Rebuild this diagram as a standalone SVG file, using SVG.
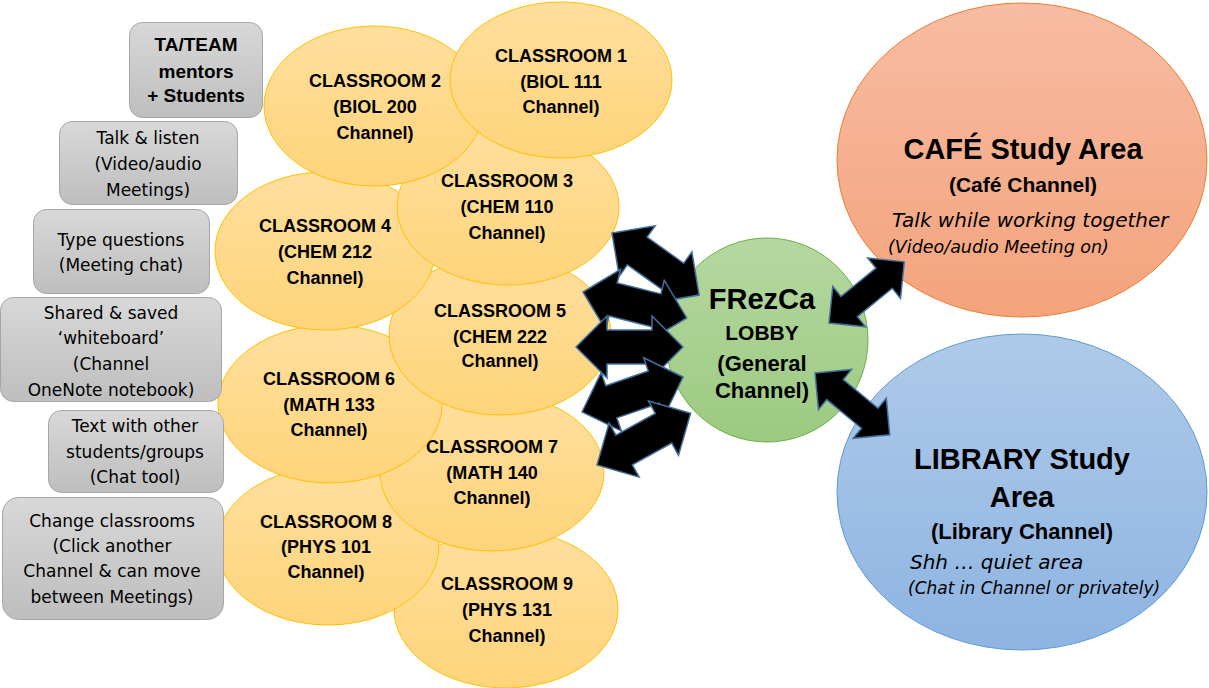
<svg xmlns="http://www.w3.org/2000/svg" xmlns:xlink="http://www.w3.org/1999/xlink" width="1209" height="688" viewBox="0 0 1209 688">
<defs>
<linearGradient id="gGold" x1="0" y1="0" x2="0" y2="1"><stop offset="0" stop-color="#FFDF9E"/><stop offset="1" stop-color="#FFD47A"/></linearGradient>
<linearGradient id="gGray" x1="0" y1="0" x2="0" y2="1"><stop offset="0" stop-color="#D8D8D8"/><stop offset="1" stop-color="#BEBEBE"/></linearGradient>
<linearGradient id="gGreen" x1="0" y1="0" x2="0" y2="1"><stop offset="0" stop-color="#B5D8A0"/><stop offset="1" stop-color="#9CCA80"/></linearGradient>
<linearGradient id="gOrange" x1="0" y1="0" x2="0" y2="1"><stop offset="0" stop-color="#F7BCA2"/><stop offset="1" stop-color="#F4A37C"/></linearGradient>
<linearGradient id="gBlue" x1="0" y1="0" x2="0" y2="1"><stop offset="0" stop-color="#AFCAE9"/><stop offset="1" stop-color="#8EB4E2"/></linearGradient>
<path id="arrL" d="M0,0 L31,-31 L31,-17 L76,-17 L76,-31 L107,0 L76,31 L76,17 L31,17 L31,31 Z"/>
<path id="arrR" d="M0,0 L26,-26 L26,-13 L71,-13 L71,-26 L97,0 L71,26 L71,13 L26,13 L26,26 Z"/>
</defs>
<style>
.cls{fill:url(#gGold);stroke:#FFC000;stroke-width:1}
.box{fill:url(#gGray);stroke:#A6A6A6;stroke-width:1}
.b{font-family:"Liberation Sans",Arial,sans-serif;font-weight:bold;fill:#000;text-anchor:middle;dominant-baseline:central}
.r{font-family:"DejaVu Sans",sans-serif;fill:#000;text-anchor:middle;dominant-baseline:central;font-size:17px}
.it{font-family:"DejaVu Sans",sans-serif;font-style:italic;fill:#000;dominant-baseline:central}
.cb{font-size:18px}
.arr{fill:#000;stroke:#41719C;stroke-width:1.5;stroke-linejoin:miter}
</style>
<rect width="1209" height="688" fill="#FFFFFF"/>

<g id="classroom9"><ellipse class="cls" cx="506" cy="609" rx="112" ry="79"/>
<text class="b cb" x="507" y="584">CLASSROOM 9</text><text class="b cb" x="507" y="610">(PHYS 131</text><text class="b cb" x="507" y="636">Channel)</text></g>
<g id="classroom8"><ellipse class="cls" cx="328" cy="546" rx="111" ry="79"/>
<text class="b cb" x="326" y="522">CLASSROOM 8</text><text class="b cb" x="326" y="547">(PHYS 101</text><text class="b cb" x="326" y="572">Channel)</text></g>
<g id="classroom7"><ellipse class="cls" cx="492" cy="472" rx="112" ry="79"/>
<text class="b cb" x="492" y="447">CLASSROOM 7</text><text class="b cb" x="492" y="473">(MATH 140</text><text class="b cb" x="492" y="498">Channel)</text></g>
<g id="classroom6"><ellipse class="cls" cx="330" cy="404" rx="112" ry="79"/>
<text class="b cb" x="329" y="379">CLASSROOM 6</text><text class="b cb" x="329" y="405">(MATH 133</text><text class="b cb" x="329" y="430">Channel)</text></g>
<g id="classroom5"><ellipse class="cls" cx="500" cy="335" rx="111" ry="80"/>
<text class="b cb" x="500" y="311">CLASSROOM 5</text><text class="b cb" x="500" y="337">(CHEM 222</text><text class="b cb" x="500" y="361">Channel)</text></g>
<g id="classroom4"><ellipse class="cls" cx="325" cy="251" rx="110" ry="79"/>
<text class="b cb" x="325" y="226">CLASSROOM 4</text><text class="b cb" x="325" y="252">(CHEM 212</text><text class="b cb" x="325" y="278">Channel)</text></g>
<g id="classroom3"><ellipse class="cls" cx="508" cy="207" rx="111" ry="78"/>
<text class="b cb" x="507" y="181">CLASSROOM 3</text><text class="b cb" x="507" y="207">(CHEM 110</text><text class="b cb" x="507" y="233">Channel)</text></g>
<g id="classroom2"><ellipse class="cls" cx="374" cy="106" rx="110" ry="80"/>
<text class="b cb" x="375" y="81">CLASSROOM 2</text><text class="b cb" x="375" y="107">(BIOL 200</text><text class="b cb" x="375" y="133">Channel)</text></g>
<g id="classroom1"><ellipse class="cls" cx="561" cy="80" rx="111" ry="78"/>
<text class="b cb" x="561" y="56">CLASSROOM 1</text><text class="b cb" x="561" y="82">(BIOL 111</text><text class="b cb" x="561" y="107">Channel)</text></g>

<g id="box-ta"><rect class="box" x="129.5" y="22.5" width="133" height="95" rx="13"/>
<text class="b" font-size="19" x="196" y="44">TA/TEAM</text><text class="b" font-size="19" x="196" y="71">mentors</text><text class="b" font-size="19" x="196" y="95">+ Students</text></g>
<g id="box-talk"><rect class="box" x="59.5" y="121.5" width="178" height="83" rx="13"/>
<text class="r" x="148" y="138">Talk &amp; listen</text><text class="r" x="148" y="164">(Video/audio</text><text class="r" x="148" y="190">Meetings)</text></g>
<g id="box-type"><rect class="box" x="33.5" y="209.5" width="176" height="84" rx="13"/>
<text class="r" x="121" y="240">Type questions</text><text class="r" x="121" y="265">(Meeting  chat)</text></g>
<g id="box-shared"><rect class="box" x="0.5" y="297.5" width="221" height="104" rx="13"/>
<text class="r" x="111" y="313">Shared &amp; saved</text><text class="r" x="111" y="338">‘whiteboard’</text><text class="r" x="111" y="364">(Channel</text><text class="r" x="111" y="390">OneNote notebook)</text></g>
<g id="box-text"><rect class="box" x="48.5" y="410.5" width="175" height="82" rx="13"/>
<text class="r" x="135" y="426">Text with other</text><text class="r" x="135" y="452">students/groups</text><text class="r" x="135" y="477">(Chat tool)</text></g>
<g id="box-change"><rect class="box" x="2.5" y="497.5" width="221" height="122" rx="16"/>
<text class="r" x="112" y="521">Change classrooms</text><text class="r" x="112" y="546">(Click  another</text><text class="r" x="112" y="571">Channel &amp; can move</text><text class="r" x="112" y="597">between Meetings)</text></g>

<g id="lobby"><ellipse cx="767" cy="340" rx="101" ry="102" fill="url(#gGreen)" stroke="#70AD47" stroke-width="1"/>
<text class="b" font-size="29" x="762" y="299">FRezCa</text><text class="b" font-size="21" x="762" y="332">LOBBY</text><text class="b" font-size="22" x="762" y="363">(General</text><text class="b" font-size="22" x="762" y="390">Channel)</text></g>

<g id="cafe"><ellipse cx="1022" cy="160" rx="185" ry="157" fill="url(#gOrange)" stroke="#ED7D31" stroke-width="1"/>
<text class="b" font-size="29" x="1023" y="149">CAFÉ Study Area</text><text class="b" font-size="21" x="1023" y="184">(Café Channel)</text>
<text class="it" font-size="20" x="892" y="220">Talk while working together</text><text class="it" font-size="17.5" x="888" y="247">(Video/audio Meeting on)</text></g>

<g id="library"><ellipse cx="1022" cy="492" rx="185" ry="158" fill="url(#gBlue)" stroke="#5B9BD5" stroke-width="1"/>
<text class="b" font-size="29" x="1022" y="459">LIBRARY Study</text><text class="b" font-size="29" x="1022" y="497">Area</text><text class="b" font-size="22" x="1022" y="531">(Library Channel)</text>
<text class="it" font-size="20" x="910" y="562">Shh … quiet area</text><text class="it" font-size="17" x="908" y="588">(Chat in Channel or privately)</text></g>

<g id="connectors">
<use href="#arrL" class="arr" transform="translate(612,233) rotate(35.48)"/>
<use href="#arrL" class="arr" transform="translate(583,292) rotate(14.04)"/>
<use href="#arrL" class="arr" transform="translate(576,347)"/>
<use href="#arrL" class="arr" transform="translate(582,412) rotate(-19.11)"/>
<use href="#arrL" class="arr" transform="translate(597,465) rotate(-28.95)"/>
<use href="#arrR" class="arr" transform="translate(829,323) rotate(-39.12)"/>
<use href="#arrR" class="arr" transform="translate(815,373) rotate(39.58)"/>
</g>
</svg>
